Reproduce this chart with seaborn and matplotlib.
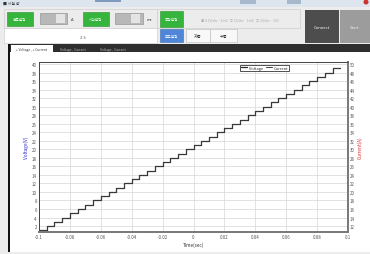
import matplotlib
matplotlib.use("Agg")
import matplotlib.pyplot as plt
from matplotlib.patches import Rectangle
import seaborn as sns
import pandas as pd

# ---------------- data ----------------
time_s = [-0.1, -0.095, -0.09, -0.085, -0.08, -0.075, -0.07, -0.065, -0.06, -0.055,
          -0.05, -0.045, -0.04, -0.035, -0.03, -0.025, -0.02, -0.015, -0.01, -0.005,
          0.0, 0.005, 0.01, 0.015, 0.02, 0.025, 0.03, 0.035, 0.04, 0.045,
          0.05, 0.055, 0.06, 0.065, 0.07, 0.075, 0.08, 0.085, 0.09, 0.095]
voltage = [1, 2, 3, 4, 5, 6, 7, 8, 9, 10,
           11, 12, 13, 14, 15, 16, 17, 18, 19, 20,
           21, 22, 23, 24, 25, 26, 27, 28, 29, 30,
           31, 32, 33, 34, 35, 36, 37, 38, 39, 39]
current = [11, 12, 13, 14, 15, 16, 17, 18, 19, 20,
           21, 22, 23, 24, 25, 26, 27, 28, 29, 30,
           31, 32, 33, 34, 35, 36, 37, 38, 39, 40,
           41, 42, 43, 44, 45, 46, 47, 48, 49, 49]
x_ticks = [-0.1, -0.08, -0.06, -0.04, -0.02, 0.0, 0.02, 0.04, 0.06, 0.08, 0.1]
x_tick_labels = ["-0.1", "-0.08", "-0.06", "-0.04", "-0.02", "0",
                 "0.02", "0.04", "0.06", "0.08", "0.1"]
v_ticks = [2, 4, 6, 8, 10, 12, 14, 16, 18, 20, 22, 24, 26, 28, 30, 32, 34, 36, 38, 40]
c_ticks = [12, 14, 16, 18, 20, 22, 24, 26, 28, 30, 32, 34, 36, 38, 40, 42, 44, 46, 48, 50]

df = pd.DataFrame({"time": time_s, "voltage": voltage, "current": current})

sns.set_theme(style="white")
plt.rcParams['font.family'] = ['Noto Sans CJK KR', 'DejaVu Sans']

W, H = 370, 255
fig = plt.figure(figsize=(W / 100, H / 100), dpi=100)

# ---------------- UI background (pixel coords) ----------------
bg = fig.add_axes([0, 0, 1, 1], zorder=0)
bg.set_xlim(0, W)
bg.set_ylim(H, 0)
bg.axis("off")

def rect(x, y, w, h, fc, ec="none", lw=0.0):
    bg.add_patch(Rectangle((x, y), w, h, facecolor=fc, edgecolor=ec, linewidth=lw))

def txt(x, y, s, size=3.0, color="#333333", ha="center", **kw):
    bg.text(x, y, s, fontsize=size, color=color, ha=ha, va="center", **kw)

rect(0, 0, W, H, "#ececec")
# title bar
rect(0, 0, W, 8, "#dde5ee")
rect(95, 0, 26, 3, "#7f9bbd")
rect(240, 1, 16, 4, "#a8b8cc")
rect(287, 1, 14, 4, "#a8b8cc")
bg.add_patch(plt.Circle((366, 3), 1.8, color="#d03030"))
txt(3, 4, "■ 시험 창", size=2.8, color="#333333", ha="left")

# group 1
rect(4, 10, 153, 19, "#ececec", "#c8c8c8", 0.4)
rect(4, 29, 153, 15, "#ffffff", "#c8c8c8", 0.4)
rect(7, 13, 26, 14, "#35b53c", "#2a8f2f", 0.4)
txt(20, 20, "전류설정", size=2.6, color="white")
rect(40, 14, 27, 11, "#b8b8b8", "#888888", 0.4)
rect(56, 15, 9, 9, "#e4e4e4")
txt(72, 20, "A", size=3.0)
rect(83, 13, 26, 14, "#35b53c", "#2a8f2f", 0.4)
txt(96, 20, "시간설정", size=2.6, color="white")
rect(115, 14, 28, 11, "#b8b8b8", "#888888", 0.4)
rect(131, 15, 9, 9, "#e4e4e4")
txt(149, 20, "ms", size=2.8)
txt(83, 38, "2 S", size=3.0, color="#555555")

# group 2
rect(157, 10, 143, 19, "#ececec", "#c8c8c8", 0.4)
rect(160, 12, 23, 16, "#35b53c", "#2a8f2f", 0.4)
txt(171.5, 20, "측정설정", size=2.6, color="white")
txt(240, 20, "◉ 0.1V/div ~ 1mV   ○ 1V/div ~ 1mV   ○ 1V/div ~ 10V",
    size=2.4, color="#aaaaaa")
rect(160, 30, 23, 13, "#4f86d8", "#3a6ab0", 0.4)
txt(171.5, 36.5, "모드설정", size=2.6, color="white")
rect(186, 30, 24, 13, "#f8f8f8", "#bbbbbb", 0.4)
txt(198, 36.5, "자동", size=3.0)
rect(210, 30, 27, 13, "#f8f8f8", "#bbbbbb", 0.4)
txt(223.5, 36.5, "수동", size=3.0)

# connect / start
rect(305, 11, 34, 33, "#4d4d4d")
txt(322, 28, "Connect", size=3.0, color="white")
rect(340, 11, 30, 33, "#9c9c9c")
txt(355, 28, "Start", size=3.0, color="#eeeeee")

# tab bar and chart panel
rect(9, 45, W - 9, 8, "#2e2e2e")
rect(11, 46, 42, 7, "#ffffff")
txt(32, 49.5, "+ Voltage , + Current", size=2.4, color="#333333")
txt(73, 49.5, "Voltage , Current", size=2.4, color="#bbbbbb")
txt(113, 49.5, "Voltage , Current", size=2.4, color="#bbbbbb")
rect(10, 53, W - 10, 200, "#ffffff")
rect(8, 45, 2, 208, "#111111")

# ---------------- chart ----------------
L, R, T, B = 39, 348, 63, 233
ax = fig.add_axes([L / W, 1 - B / H, (R - L) / W, (B - T) / H], zorder=2)
ax.set_facecolor("white")
sns.lineplot(data=df, x="time", y="voltage", ax=ax, drawstyle="steps-post",
             color="#2a2a2a", linewidth=0.9, label="Voltage", legend=False)
ax.set_xlim(-0.1, 0.1)
ax.set_ylim(0.6, 40.5)
ax.set_xticks(x_ticks)
ax.set_xticklabels(x_tick_labels)
ax.set_yticks(v_ticks)
ax.grid(True, color="#d6d6d6", linewidth=0.5)
ax.tick_params(axis="both", labelsize=3.2, length=0, pad=1.5, colors="#555555")
ax.set_xlabel("Time(sec)", fontsize=3.4, labelpad=1.5, color="#333333")
ax.set_ylabel("Voltage(V)", fontsize=3.4, labelpad=2.0, color="#2a2ad0")

ax2 = ax.twinx()
sns.lineplot(data=df, x="time", y="current", ax=ax2, drawstyle="steps-post",
             color="#3a3a3a", linewidth=0.7, label="Current", legend=False)
ax2.set_ylim(10.6, 50.5)
ax2.set_yticks(c_ticks)
ax2.tick_params(axis="y", labelsize=3.2, length=0, pad=1.5, colors="#555555")
ax2.set_ylabel("Current(A)", fontsize=3.4, labelpad=1.5, color="#e03030")
ax2.grid(False)

for a in (ax, ax2):
    a.spines["top"].set_color("#444444")
    a.spines["top"].set_linewidth(0.6)
    a.spines["left"].set_color("#444444")
    a.spines["left"].set_linewidth(0.6)
    a.spines["right"].set_color("#7a7a7a")
    a.spines["right"].set_linewidth(1.3)
    a.spines["bottom"].set_color("#7a7a7a")
    a.spines["bottom"].set_linewidth(1.3)

h1, l1 = ax.get_legend_handles_labels()
h2, l2 = ax2.get_legend_handles_labels()
leg = ax2.legend(h1 + h2, l1 + l2, loc="upper left", bbox_to_anchor=(0.644, 0.997),
                 ncol=2, fontsize=2.9, handlelength=1.6, handletextpad=0.3,
                 columnspacing=0.7, borderpad=0.25, frameon=True, fancybox=False,
                 edgecolor="#333333", framealpha=1)
leg.get_frame().set_linewidth(0.6)

fig.savefig("out.png", dpi=100)
